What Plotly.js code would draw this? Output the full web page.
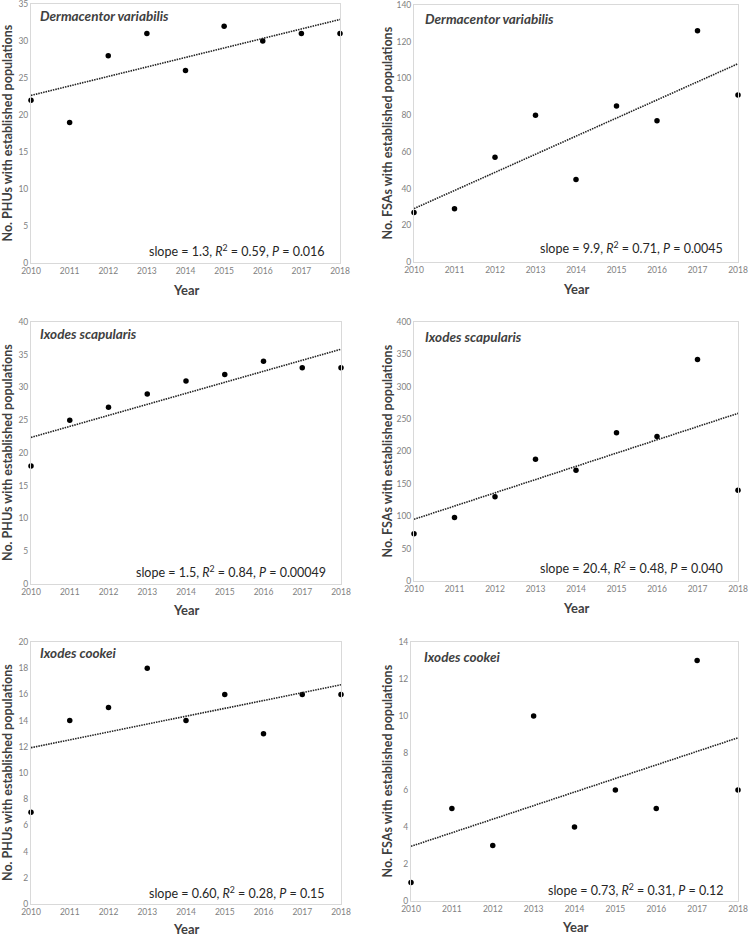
<!DOCTYPE html>
<html>
<head>
<meta charset="utf-8">
<script src="https://cdn.plot.ly/plotly-3.0.1.min.js"></script>
<style>html,body{margin:0;padding:0;background:#fff;}#chart{width:749px;height:936px;}</style>
</head>
<body>
<div id="chart"></div>
<script>
// ---- data ----
const years = [2010, 2011, 2012, 2013, 2014, 2015, 2016, 2017, 2018];
const dvPHU = [22, 19, 28, 31, 26, 32, 30, 31, 31];
const dvFSA = [27, 29, 57, 80, 45, 85, 77, 126, 91];
const isPHU = [18, 25, 27, 29, 31, 32, 34, 33, 33];
const isFSA = [73, 98, 130, 188, 171, 229, 223, 342, 140];
const icPHU = [7, 14, 15, 18, 14, 16, 13, 16, 16];
const icFSA = [1, 5, 3, 10, 4, 6, 5, 13, 6];
const speciesNames = ['Dermacentor variabilis', 'Dermacentor variabilis', 'Ixodes scapularis', 'Ixodes scapularis', 'Ixodes cookei', 'Ixodes cookei'];
const statSlopes = ['1.3', '9.9', '1.5', '20.4', '0.60', '0.73'];
const statR2 = ['0.59', '0.71', '0.84', '0.48', '0.28', '0.31'];
const statP = ['0.016', '0.0045', '0.00049', '0.040', '0.15', '0.12'];
const yTitleText = ['No. PHUs with established populations', 'No. FSAs with established populations'];
const xTitleText = 'Year';
const yMax = [35, 140, 40, 400, 20, 14];
const yStep = [5, 20, 5, 50, 2, 2];

// ---- layout geometry (pixels) ----
const W = 749, H = 936;
const boxes = [
  {l: 31, r: 340, t: 4, b: 263},
  {l: 414, r: 738, t: 5, b: 262},
  {l: 31, r: 341, t: 322, b: 584},
  {l: 414, r: 738, t: 322, b: 581},
  {l: 31, r: 341, t: 642, b: 904},
  {l: 411, r: 738, t: 642, b: 901}
];
const yearY = [290, 289, 610, 608, 929, 927];
const speciesPos = [[38, 16], [423, 19], [38, 334], [423, 337], [38, 653], [422, 657]];
const statPos = [[327, 251], [725, 248], [328, 571], [725, 567], [327, 892], [726, 889]];
const yTitleX = [7, 387];

const series = [dvPHU, dvFSA, isPHU, isFSA, icPHU, icFSA];

function fit(xs, ys) {
  const n = xs.length;
  const mx = xs.reduce((a, b) => a + b, 0) / n;
  const my = ys.reduce((a, b) => a + b, 0) / n;
  let sxy = 0, sxx = 0;
  for (let i = 0; i < n; i++) { sxy += (xs[i] - mx) * (ys[i] - my); sxx += (xs[i] - mx) ** 2; }
  const m = sxy / sxx;
  return x => my + m * (x - mx);
}

const px = x => x / W;
const py = y => 1 - y / H;

const FONT = 'Lato, "Open Sans", sans-serif';
const traces = [];
const layout = {
  width: W, height: H,
  margin: {l: 0, r: 0, t: 0, b: 0},
  paper_bgcolor: '#fff', plot_bgcolor: '#fff',
  showlegend: false,
  font: {family: FONT, color: '#404040'},
  annotations: []
};

series.forEach((ys, i) => {
  const k = i + 1;
  const xa = 'x' + (k === 1 ? '' : k), ya = 'y' + (k === 1 ? '' : k);
  const bx = boxes[i];
  traces.push({
    x: years, y: ys, xaxis: xa, yaxis: ya, type: 'scatter', mode: 'markers',
    marker: {color: '#000', size: 5.5}, cliponaxis: false, hoverinfo: 'x+y'
  });
  const f = fit(years, ys);
  const x0 = years[0], x1 = years[years.length - 1];
  traces.push({
    x: [x0, x1], y: [f(x0), f(x1)], xaxis: xa, yaxis: ya, type: 'scatter', mode: 'lines',
    line: {color: '#222', width: 1.6, dash: '1.5px,1px'}, hoverinfo: 'skip'
  });
  const axCommon = {
    showgrid: false, zeroline: false, showline: true, mirror: true,
    linecolor: '#d9d9d9', linewidth: 1, ticks: '', ticklabeloverflow: 'allow',
    tickfont: {family: FONT, size: 8.5, color: '#7f7f7f'}, fixedrange: true
  };
  layout['xaxis' + (k === 1 ? '' : k)] = Object.assign({}, axCommon, {
    domain: [px(bx.l), px(bx.r)], anchor: ya, range: [2010, 2018],
    tickmode: 'linear', tick0: 2010, dtick: 1, tickformat: 'd'
  });
  layout['yaxis' + (k === 1 ? '' : k)] = Object.assign({}, axCommon, {
    domain: [py(bx.b), py(bx.t)], anchor: xa, range: [0, yMax[i]],
    tickmode: 'linear', tick0: 0, dtick: yStep[i]
  });
  // species label
  layout.annotations.push({
    xref: 'paper', yref: 'paper', x: px(speciesPos[i][0]), y: py(speciesPos[i][1]),
    xanchor: 'left', yanchor: 'middle', showarrow: false,
    text: '<i>' + speciesNames[i] + '</i>',
    font: {family: FONT, size: 13.5, color: '#404040', weight: 700}
  });
  // stats
  layout.annotations.push({
    xref: 'paper', yref: 'paper', x: px(statPos[i][0]), y: py(statPos[i][1]),
    xanchor: 'right', yanchor: 'middle', showarrow: false,
    text: 'slope = ' + statSlopes[i] + ', <i>R</i><sup>2</sup> = ' + statR2[i] + ', <i>P</i> = ' + statP[i],
    font: {family: FONT, size: 12.5, color: '#262626'}
  });
  // x title
  layout.annotations.push({
    xref: 'paper', yref: 'paper', x: px((bx.l + bx.r) / 2), y: py(yearY[i]),
    xanchor: 'center', yanchor: 'middle', showarrow: false,
    text: xTitleText, font: {family: FONT, size: 13, color: '#404040', weight: 700}
  });
  // y title
  layout.annotations.push({
    xref: 'paper', yref: 'paper', x: px(yTitleX[i % 2]), y: py((bx.t + bx.b) / 2),
    xanchor: 'center', yanchor: 'middle', showarrow: false, textangle: -90,
    text: yTitleText[i % 2], font: {family: FONT, size: 12.5, color: '#404040', weight: 700}
  });
});

Plotly.newPlot('chart', traces, layout, {displayModeBar: false, staticPlot: true});
</script>
</body>
</html>
